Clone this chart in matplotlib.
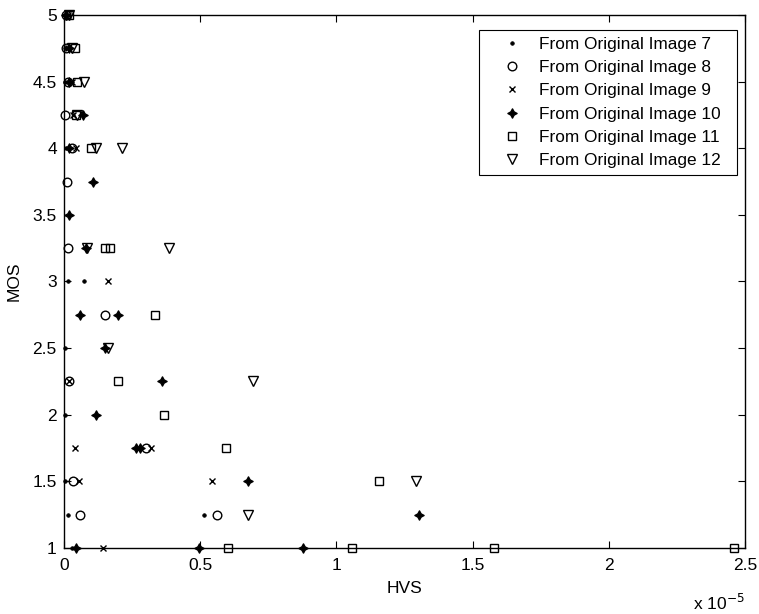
import matplotlib
matplotlib.use("Agg")
import matplotlib.pyplot as plt

plt.rcParams["font.family"] = ["Liberation Sans", "DejaVu Sans"]

# HVS values are given in units of 1e-5; MOS is the subjective score.
img7_hvs = [0.005, 0.005, 0.005, 0.01, 0.016, 0.075, 0.005, 0.005, 0.003, 0.015, 0.515, 0.03]
img7_mos = [5.0, 4.75, 4.5, 4.0, 3.0, 3.0, 2.5, 2.0, 1.5, 1.25, 1.25, 1.0]

img8_hvs = [0.01, 0.01, 0.015, 0.005, 0.03, 0.012, 0.016, 0.152, 0.02, 0.30, 0.035, 0.06, 0.563]
img8_mos = [5.0, 4.75, 4.5, 4.25, 4.0, 3.75, 3.25, 2.75, 2.25, 1.75, 1.5, 1.25, 1.25]

img9_hvs = [0.015, 0.015, 0.03, 0.035, 0.045, 0.163, 0.02, 0.04, 0.32, 0.057, 0.544, 0.145]
img9_mos = [5.0, 4.75, 4.5, 4.25, 4.0, 3.0, 2.25, 1.75, 1.75, 1.5, 1.5, 1.0]

img10_hvs = [0.01, 0.02, 0.02, 0.07, 0.02, 0.108, 0.02, 0.08, 0.06, 0.20, 0.15, 0.36,
             0.12, 0.265, 0.28, 0.676, 1.303, 0.045, 0.497, 0.877]
img10_mos = [5.0, 4.75, 4.5, 4.25, 4.0, 3.75, 3.5, 3.25, 2.75, 2.75, 2.5, 2.25,
             2.0, 1.75, 1.75, 1.5, 1.25, 1.0, 1.0, 1.0]

img11_hvs = [0.02, 0.04, 0.05, 0.045, 0.10, 0.15, 0.17, 0.335, 0.20, 0.367, 0.596,
             1.157, 0.603, 1.058, 1.578, 2.459]
img11_mos = [5.0, 4.75, 4.5, 4.25, 4.0, 3.25, 3.25, 2.75, 2.25, 2.0, 1.75,
             1.5, 1.0, 1.0, 1.0, 1.0]

img12_hvs = [0.02, 0.03, 0.075, 0.05, 0.12, 0.214, 0.085, 0.387, 0.163, 0.695, 1.293, 0.676]
img12_mos = [5.0, 4.75, 4.5, 4.25, 4.0, 4.0, 3.25, 3.25, 2.5, 2.25, 1.5, 1.25]

labels = ["From Original Image 7", "From Original Image 8", "From Original Image 9",
          "From Original Image 10", "From Original Image 11", "From Original Image 12"]

x_ticks = [0, 0.5, 1, 1.5, 2, 2.5]
x_ticklabels = ["0", "0.5", "1", "1.5", "2", "2.5"]
y_ticks = [1, 1.5, 2, 2.5, 3, 3.5, 4, 4.5, 5]
y_ticklabels = ["1", "1.5", "2", "2.5", "3", "3.5", "4", "4.5", "5"]

series = [
    (img7_hvs, img7_mos, dict(marker="o", ms=2.6, mfc="black", mec="black", mew=0.5)),
    (img8_hvs, img8_mos, dict(marker="o", ms=6.2, mfc="none", mec="black", mew=1.0)),
    (img9_hvs, img9_mos, dict(marker="x", ms=4.0, mfc="none", mec="black", mew=1.0)),
    (img10_hvs, img10_mos, dict(marker=(4, 1, 0), ms=7.0, mfc="black", mec="black", mew=0.8)),
    (img11_hvs, img11_mos, dict(marker="s", ms=6.2, mfc="none", mec="black", mew=1.0)),
    (img12_hvs, img12_mos, dict(marker="v", ms=7.0, mfc="none", mec="black", mew=1.0)),
]

fig = plt.figure(figsize=(7.59, 6.14), dpi=100)
ax = fig.add_axes([0.084, 0.1075, 0.8976, 0.8681])

for (xs, ys, style), lab in zip(series, labels):
    ax.plot(xs, ys, linestyle="none", label=lab + "  ", clip_on=False, **style)

ax.set_xlim(0, 2.5)
ax.set_ylim(1, 5)
ax.set_xticks(x_ticks)
ax.set_xticklabels(x_ticklabels)
ax.set_yticks(y_ticks)
ax.set_yticklabels(y_ticklabels)
ax.tick_params(axis="both", direction="in", length=5, width=0.8, top=True, right=True,
               labelsize=12.5, colors="black")
ax.tick_params(axis="x", pad=7)
ax.tick_params(axis="y", pad=5)
for s in ax.spines.values():
    s.set_linewidth(1.0)
    s.set_color("black")

ax.set_xlabel("HVS", fontsize=12.5, labelpad=6)
ax.set_ylabel("MOS", fontsize=12.5, labelpad=8)
ax.text(1.0, -0.085, "x 10$^{-5}$", transform=ax.transAxes, ha="right", va="top",
        fontsize=12.5)

leg = ax.legend(loc="upper right", bbox_to_anchor=(0.988, 0.972), fontsize=12.4,
                frameon=True, fancybox=False, edgecolor="black", framealpha=1,
                borderpad=0.4, labelspacing=0.48, handletextpad=0.1,
                handlelength=2.95, borderaxespad=0)
leg.get_frame().set_linewidth(0.8)

fig.savefig("out.png", dpi=100, facecolor="white")
